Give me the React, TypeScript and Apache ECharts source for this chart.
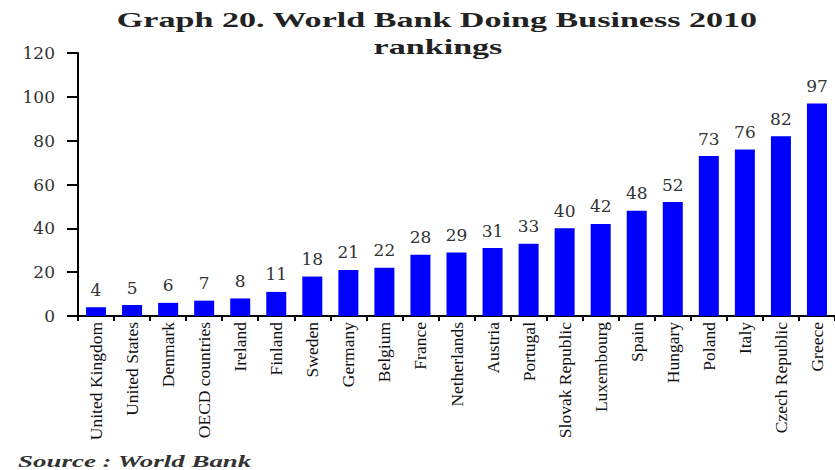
import React, { useEffect, useRef } from "react";
import * as echarts from "echarts";

const categories = [
  "United Kingdom", "United States", "Denmark", "OECD countries", "Ireland", "Finland",
  "Sweden", "Germany", "Belgium", "France", "Netherlands", "Austria", "Portugal",
  "Slovak Republic", "Luxembourg", "Spain", "Hungary", "Poland", "Italy",
  "Czech Republic", "Greece",
];
const rankings = [4, 5, 6, 7, 8, 11, 18, 21, 22, 28, 29, 31, 33, 40, 42, 48, 52, 73, 76, 82, 97];
const yTicks = { min: 0, max: 120, interval: 20 };
const titleLines = ["Graph 20. World Bank Doing Business 2010", "rankings"];
const sourceText = "Source : World Bank";

function measure(text: string, font: string): number {
  const c = document.createElement("canvas");
  const ctx = c.getContext("2d");
  if (!ctx) return text.length * 10;
  ctx.font = font;
  return ctx.measureText(text).width;
}

export default function App() {
  const ref = useRef<HTMLDivElement>(null);
  useEffect(() => {
    if (!ref.current) return;
    const chart = echarts.init(ref.current, null, { renderer: "svg" });
    const titleFont = "bold 21px 'Liberation Serif'";
    const titleScale = 641 / measure(titleLines[0], titleFont);
    const srcFont = "italic bold 16px 'Liberation Serif'";
    const srcScale = 234 / measure(sourceText, srcFont);
    chart.setOption({
      animation: false,
      backgroundColor: "#ffffff",
      grid: { left: 78, top: 53, bottom: 154, right: -4, containLabel: false },
      xAxis: {
        type: "category",
        data: categories,
        axisLine: { lineStyle: { color: "#000", width: 2 } },
        axisTick: { show: true, alignWithLabel: false, length: 5, lineStyle: { color: "#000", width: 2 } },
        axisLabel: {
          interval: 0,
          rotate: 90,
          margin: 6,
          fontFamily: "Liberation Serif",
          fontSize: 17.5,
          color: "#111",
        },
      },
      yAxis: {
        type: "value",
        min: yTicks.min,
        max: yTicks.max,
        interval: yTicks.interval,
        splitLine: { show: false },
        axisLine: { show: true, lineStyle: { color: "#000", width: 2 } },
        axisTick: { show: true, length: 11, lineStyle: { color: "#000", width: 2 } },
        axisLabel: {
          margin: 23,
          fontFamily: "DejaVu Serif",
          fontSize: 17,
          color: "#333",
        },
      },
      series: [
        {
          type: "bar",
          data: rankings,
          barWidth: 20,
          itemStyle: { color: "#0000ff" },
          label: {
            show: true,
            position: "top",
            distance: 9,
            fontFamily: "DejaVu Serif",
            fontSize: 17,
            color: "#333",
          },
        },
      ],
      graphic: [
        {
          type: "text",
          x: 437,
          y: 19.7,
          scaleX: titleScale,
          style: {
            text: titleLines[0],
            font: titleFont,
            fill: "#222",
            textAlign: "center",
            textVerticalAlign: "middle",
          },
        },
        {
          type: "text",
          x: 438,
          y: 46.5,
          scaleX: titleScale,
          style: {
            text: titleLines[1],
            font: titleFont,
            fill: "#222",
            textAlign: "center",
            textVerticalAlign: "middle",
          },
        },
        {
          type: "text",
          x: 18,
          y: 462,
          scaleX: srcScale,
          style: {
            text: sourceText,
            font: srcFont,
            fill: "#333",
            textAlign: "left",
            textVerticalAlign: "middle",
          },
        },
      ],
    });
    return () => chart.dispose();
  }, []);
  return (
    <div
      ref={ref}
      style={{ position: "absolute", left: 0, top: 0, width: 835, height: 470 }}
    />
  );
}
